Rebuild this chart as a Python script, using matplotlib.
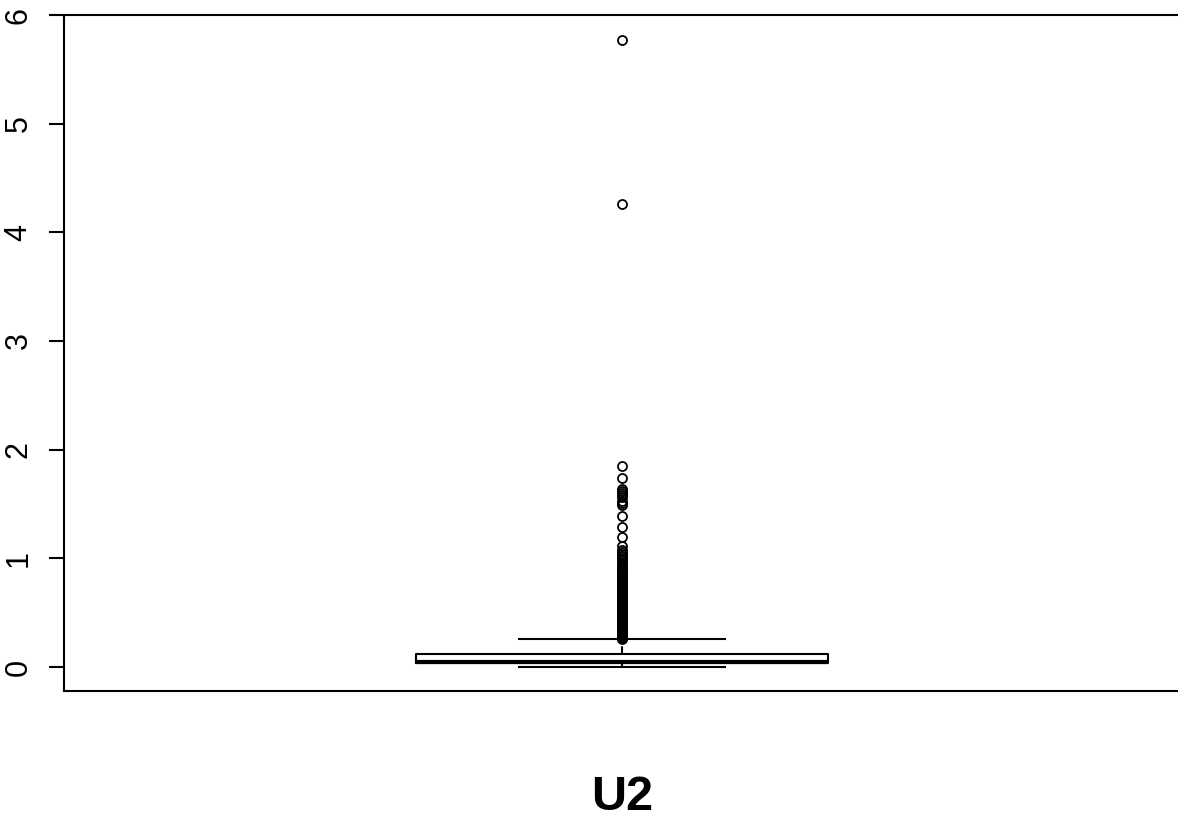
import numpy as np
import matplotlib.pyplot as plt

# box statistics for U2
label = "U2"
whislo = 0.0
q1 = 0.035
med = 0.045
q3 = 0.12
whishi = 0.255
fliers = [0.26, 0.263, 0.266, 0.27, 0.273, 0.276, 0.28, 0.284, 0.288, 0.292,
          0.296, 0.30, 0.305, 0.31, 0.315, 0.32, 0.325, 0.33, 0.335, 0.34,
          0.345, 0.35, 0.355, 0.36, 0.365, 0.37, 0.375, 0.38, 0.385, 0.39,
          0.395, 0.40, 0.405, 0.41, 0.415, 0.42, 0.425, 0.43, 0.435, 0.44,
          0.445, 0.45, 0.455, 0.46, 0.465, 0.47, 0.475, 0.48, 0.485, 0.49,
          0.495, 0.50, 0.505, 0.51, 0.515, 0.52, 0.525, 0.53, 0.535, 0.54,
          0.545, 0.55, 0.555, 0.56, 0.565, 0.57, 0.575, 0.58, 0.585, 0.59,
          0.595, 0.60, 0.605, 0.61, 0.615, 0.62, 0.625, 0.63, 0.635, 0.64,
          0.645, 0.65, 0.655, 0.66, 0.665, 0.67, 0.675, 0.68, 0.685, 0.69,
          0.695, 0.70, 0.705, 0.71, 0.715, 0.72, 0.725, 0.73, 0.735, 0.74,
          0.75, 0.76, 0.77, 0.78, 0.79, 0.80, 0.815, 0.83, 0.845, 0.86,
          0.875, 0.89, 0.905, 0.92, 0.94, 0.96, 0.98, 1.00, 1.02, 1.04,
          1.06, 1.08, 1.11, 1.20, 1.29, 1.39, 1.49, 1.51, 1.53, 1.56,
          1.58, 1.60, 1.62, 1.64, 1.74, 1.85, 4.26, 5.77]
yticks = [0, 1, 2, 3, 4, 5, 6]

plt.rcParams['font.family'] = ['Liberation Sans', 'DejaVu Sans']

fig = plt.figure(figsize=(11.78, 8.18), dpi=100)
ax = fig.add_axes([64/1178, (818-691)/818, 1116/1178, (691-15)/818])

stats = [dict(whislo=whislo, q1=q1, med=med, q3=q3, whishi=whishi, fliers=fliers)]
ax.bxp(stats, positions=[1], widths=0.37, showcaps=True,
       boxprops=dict(color='black', linewidth=1.5),
       medianprops=dict(color='black', linewidth=3),
       whiskerprops=dict(color='black', linewidth=1.5, linestyle='--'),
       capprops=dict(color='black', linewidth=1.5),
       flierprops=dict(marker='o', markerfacecolor='none', markeredgecolor='black',
                       markersize=6.5, markeredgewidth=1.3),
       capwidths=0.185)

ax.set_xlim(0.5, 1.5)
ax.set_ylim(-0.221, 6)
ax.set_xticks([])
ax.set_yticks(yticks)
ax.set_yticklabels([str(t) for t in yticks], rotation=90, va='center', fontsize=22)
ax.tick_params(axis='y', length=10.8, width=1.5, pad=11)
for s in ['left', 'top', 'bottom']:
    ax.spines[s].set_linewidth(1.5)
ax.spines['right'].set_visible(False)

fig.text(622/1178, 1 - 810/818, label, ha='center', va='baseline',
         fontsize=35, fontweight='bold')

plt.savefig('out.png', dpi=100)
